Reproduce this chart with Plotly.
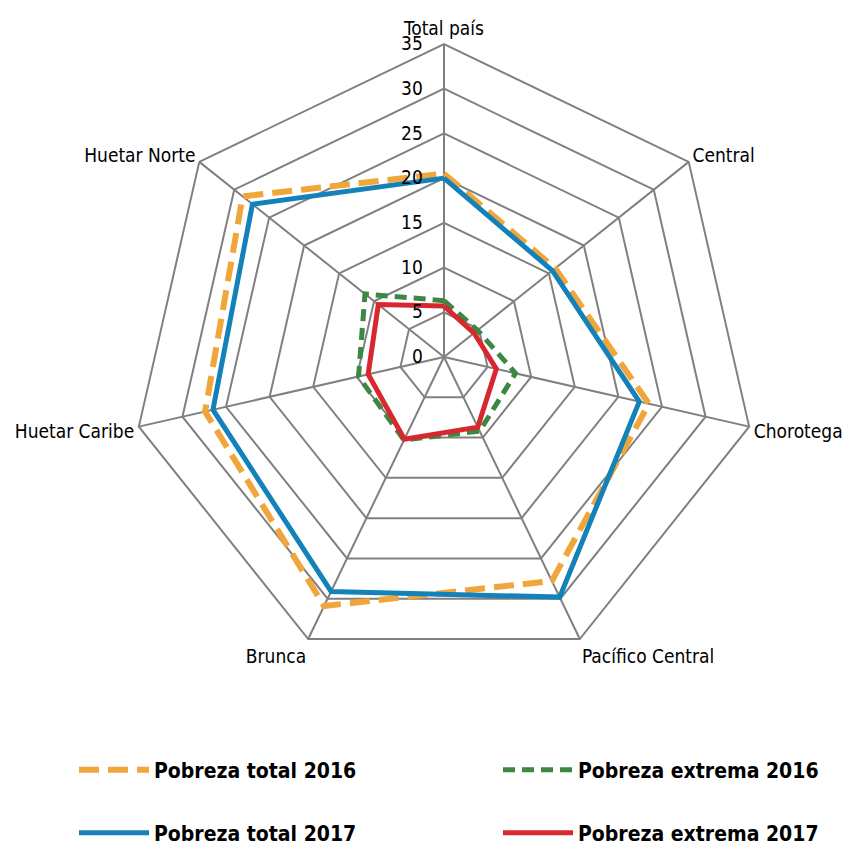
import plotly.graph_objects as go

categories = ["Total país", "Central", "Chorotega", "Pacífico Central", "Brunca", "Huetar Caribe", "Huetar Norte"]
total_2016 = [20.5, 15.9, 23.5, 27.8, 30.9, 27.4, 28.8]
total_2017 = [20.0, 15.5, 22.4, 29.8, 29.1, 26.5, 27.4]
extrema_2016 = [6.3, 4.8, 8.2, 9.2, 10.3, 9.8, 11.3]
extrema_2017 = [5.7, 4.3, 6.0, 8.7, 10.2, 8.7, 9.4]
radial_ticks = [0, 5, 10, 15, 20, 25, 30, 35]

FONT = "Liberation Sans Narrow, DejaVu Sans Condensed, Roboto, sans-serif"

def closed(v):
    return list(v) + [v[0]]

series = [
    ("Pobreza total 2016", total_2016, "#F0A63A", 6, "20px,9px", "legend"),
    ("Pobreza extrema 2016", extrema_2016, "#3C8742", 5, "12px,7px", "legend2"),
    ("Pobreza total 2017", total_2017, "#1482BA", 5, "solid", "legend3"),
    ("Pobreza extrema 2017", extrema_2017, "#D7282F", 5, "solid", "legend4"),
]
legend_pos = {
    "legend": (74, 770),
    "legend2": (498, 770),
    "legend3": (74, 833),
    "legend4": (498, 833),
}

fig = go.Figure()
for name, vals, color, width, dash, lg in series:
    fig.add_trace(go.Scatterpolar(
        r=closed(vals), theta=closed(categories), mode="lines", name=name,
        line=dict(color=color, width=width, dash=dash), legend=lg, showlegend=True,
    ))

legend_layout = {}
for key, (px, py) in legend_pos.items():
    legend_layout[key] = dict(
        x=px / 851, y=1 - py / 850, xanchor="left", yanchor="middle",
        orientation="h", itemwidth=70, bgcolor="rgba(0,0,0,0)", visible=True,
        font=dict(family=FONT, size=21, color="black", weight="bold"),
    )

cx, cy, size = 444.0, 357.0, 626.0
fig.update_layout(
    width=851, height=850,
    margin=dict(l=0, r=0, t=0, b=0, autoexpand=False),
    showlegend=True,
    paper_bgcolor="white",
    font=dict(family=FONT, size=18, color="black"),
    polar=dict(
        domain=dict(x=[(cx - size / 2) / 851, (cx + size / 2) / 851],
                    y=[1 - (cy + size / 2) / 850, 1 - (cy - size / 2) / 850]),
        bgcolor="white",
        gridshape="linear",
        angularaxis=dict(
            direction="clockwise", rotation=90,
            linecolor="#808080", linewidth=2,
            gridcolor="#808080", gridwidth=2,
            showticklabels=True, ticks="",
            tickfont=dict(family=FONT, size=19, color="black"),
        ),
        radialaxis=dict(
            range=[0, 35], tickvals=radial_ticks, angle=90, tickangle=90,
            side="counterclockwise",
            showline=False, gridcolor="#808080", gridwidth=2,
            ticks="outside", ticklen=14, tickcolor="rgba(0,0,0,0)",
            tickfont=dict(family=FONT, size=19, color="black"),
        ),
    ),
    **legend_layout,
)

fig.write_html("out.html", config={"displayModeBar": False},
               post_script="document.body.style.margin='0';")
